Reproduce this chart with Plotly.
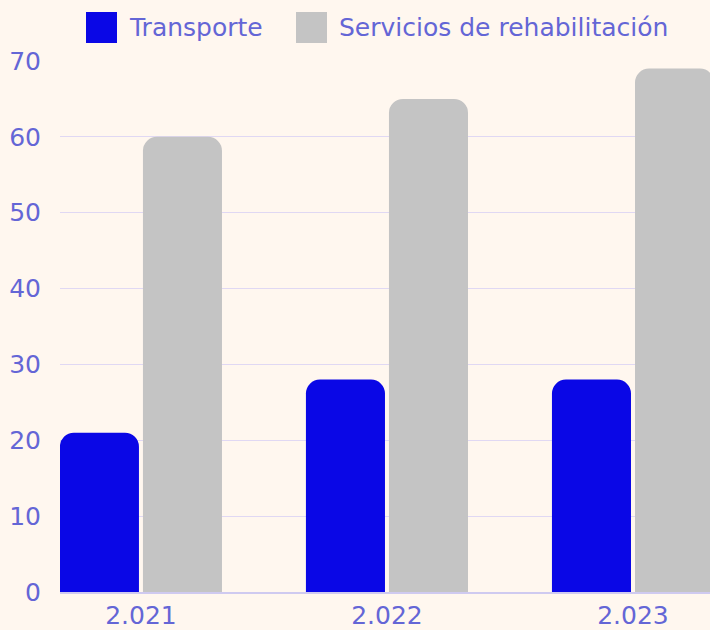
import plotly.graph_objects as go

years = ["2.021", "2.022", "2.023"]
transporte = [21, 28, 28]
rehabilitacion = [60, 65, 69]
series_names = ["Transporte", "Servicios de rehabilitación"]
series_colors = ["#0a07e6", "#c4c4c4"]
y_ticks = [0, 10, 20, 30, 40, 50, 60, 70]

TEXT = "#6466d6"
BG = "#fff7ef"
FONT = "DejaVu Sans"
FS = 25

fig = go.Figure()
for name, vals, col in zip(series_names, [transporte, rehabilitacion], series_colors):
    fig.add_trace(go.Bar(
        x=years, y=vals, name=name,
        marker=dict(color=col, cornerradius=14, line=dict(width=0)),
        showlegend=False,
    ))

# custom legend (large squares)
leg_x = [86, 296]
for i, (name, col) in enumerate(zip(series_names, series_colors)):
    fig.add_shape(type="rect", xref="paper", yref="paper",
                  x0=(leg_x[i] - 60) / 650, x1=(leg_x[i] + 31 - 60) / 650,
                  y0=(592 - 43) / 531, y1=(592 - 12) / 531,
                  fillcolor=col, line=dict(width=0), layer="above")
    fig.add_annotation(text=name, xref="paper", yref="paper",
                       x=(leg_x[i] + 41 - 60) / 650, y=(592 - 27) / 531,
                       xanchor="left", yanchor="middle", showarrow=False,
                       font=dict(family=FONT, size=FS, color=TEXT))

fig.update_layout(
    width=710, height=630,
    margin=dict(l=60, r=0, t=61, b=38),
    paper_bgcolor=BG, plot_bgcolor=BG,
    barmode="group", bargap=0.325, bargroupgap=0.048,
    font=dict(family=FONT, size=FS, color=TEXT),
)
fig.update_xaxes(
    range=[-0.329, 2.313], showgrid=False, ticks="", tickfont=dict(size=FS, color=TEXT),
    showline=True, linecolor="#cfcaf0", linewidth=2,
)
fig.update_yaxes(
    range=[0, 70], tickvals=y_ticks, showgrid=True, gridcolor="#e0d8f3", gridwidth=1,
    zeroline=False, ticks="", ticklabelstandoff=18,
    tickfont=dict(size=FS, color=TEXT),
)
fig.write_html("out.html")
